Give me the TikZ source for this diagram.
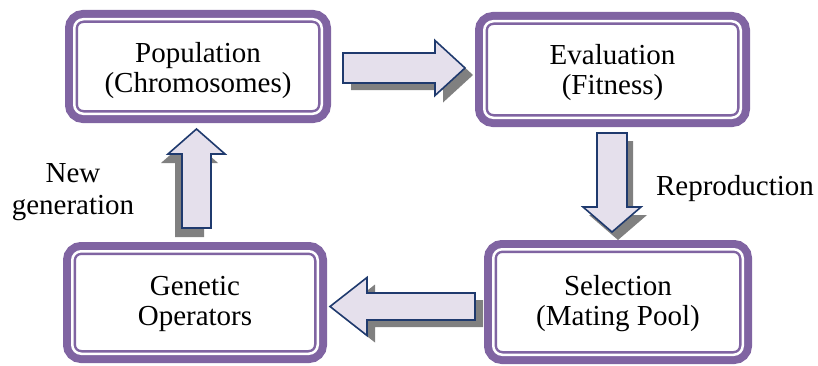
\documentclass[tikz,border=0pt]{standalone}
\usepackage{fontspec}
\setmainfont{Liberation Serif}
\usetikzlibrary{calc}

\definecolor{framepurple}{HTML}{8064A2}
\definecolor{arrowfill}{HTML}{E5E0EC}
\definecolor{arrowline}{HTML}{1F3A6E}
\definecolor{shadowgray}{HTML}{808080}

\tikzset{
  % rounded frame: thick outer band, thin white gap, thin inner line
  stage/.style={shape=rectangle, rounded corners=9pt, fill=white,
    draw=framepurple, line width=2.5pt, double=white, double distance=2.5pt,
    preaction={draw=framepurple, line width=18.5pt},
    outer sep=9.25pt, inner sep=0pt},
  stagetext/.style={font=\fontsize{29}{30}\selectfont, align=center, inner sep=0pt},
  labeltext/.style={font=\fontsize{29}{32}\selectfont, align=center, inner sep=0pt},
  arrowbody/.style={fill=arrowfill, draw=arrowline, line width=1.6pt, line join=miter},
  arrowshadow/.style={fill=shadowgray},
}

% block arrow with a hard shadow:
% tail, tip, shaft half width, head half width, head length, shadow dx, shadow dy
\newcommand\blockarrow[7]{%
  \coordinate (hb) at ($(#2)!#5!(#1)$);
  \fill[arrowshadow] ($(#1)!#3!90:(#2)+(#6,#7)$) -- ($(hb)!#3!90:(#2)+(#6,#7)$)
    -- ($(hb)!#4!90:(#2)+(#6,#7)$) -- ($(#2)+(#6,#7)$)
    -- ($(hb)!#4!-90:(#2)+(#6,#7)$) -- ($(hb)!#3!-90:(#2)+(#6,#7)$)
    -- ($(#1)!#3!-90:(#2)+(#6,#7)$) -- cycle;
  \draw[arrowbody] ($(#1)!#3!90:(#2)$) -- ($(hb)!#3!90:(#2)$)
    -- ($(hb)!#4!90:(#2)$) -- (#2)
    -- ($(hb)!#4!-90:(#2)$) -- ($(hb)!#3!-90:(#2)$)
    -- ($(#1)!#3!-90:(#2)$) -- cycle;
}

\begin{document}
\begin{tikzpicture}[x=1pt, y=1pt]
  \useasboundingbox (0,0) rectangle (818,365);

  % the four stages
  \node[stage, minimum width=247.5pt, minimum height=94.5pt]  (pop)  at (198,298.5) {};
  \node[stage, minimum width=256.5pt, minimum height=96.5pt]  (eval) at (612.5,295.5) {};
  \node[stage, minimum width=249.5pt, minimum height=105.5pt] (sel)  at (618,63) {};
  \node[stage, minimum width=245.5pt, minimum height=102.5pt] (gen)  at (195,62.5) {};

  \node[stagetext] (poptext)  at ($(pop)+(0,-4.5)$)   {Population\\(Chromosomes)};
  \node[stagetext] (evaltext) at ($(eval)+(0,-3.25)$) {Evaluation\\(Fitness)};
  \node[stagetext] (seltext)  at ($(sel)+(0,-1.35)$)  {Selection\\(Mating Pool)};
  \node[stagetext] (gentext)  at ($(gen)+(0,-1)$)     {Genetic\\Operators};

  % arrow ends
  \coordinate (popout) at ($(pop.east)+(12,-1.5)$);
  \coordinate (evalin) at ($(eval.west)+(-10,1.5)$);
  \coordinate (evalout) at ($(eval.south)+(-0.5,-6)$);
  \coordinate (selin) at ($(sel.north)+(-6,8)$);
  \coordinate (selout) at ($(sel.west)+(-9,-4.5)$);
  \coordinate (genin) at ($(gen.east)+(3,-4)$);
  \coordinate (genout) at ($(gen.north)+(1.5,14)$);
  \coordinate (popin) at ($(pop.south)+(-1.5,-6)$);

  \blockarrow{popout}{evalin}{15pt}{27.5pt}{30pt}{8}{-7}
  \blockarrow{evalout}{selin}{15pt}{29pt}{25pt}{6}{-8}
  \blockarrow{selout}{genin}{13.5pt}{29pt}{37pt}{8}{-7}
  \blockarrow{genout}{popin}{14.5pt}{28.5pt}{25pt}{-7}{-9}

  % side labels
  \node[labeltext] (newgen) at (73,172.4) {New\\generation};
  \node[labeltext, anchor=base] (repro) at (735,170) {Reproduction};
\end{tikzpicture}
\end{document}
